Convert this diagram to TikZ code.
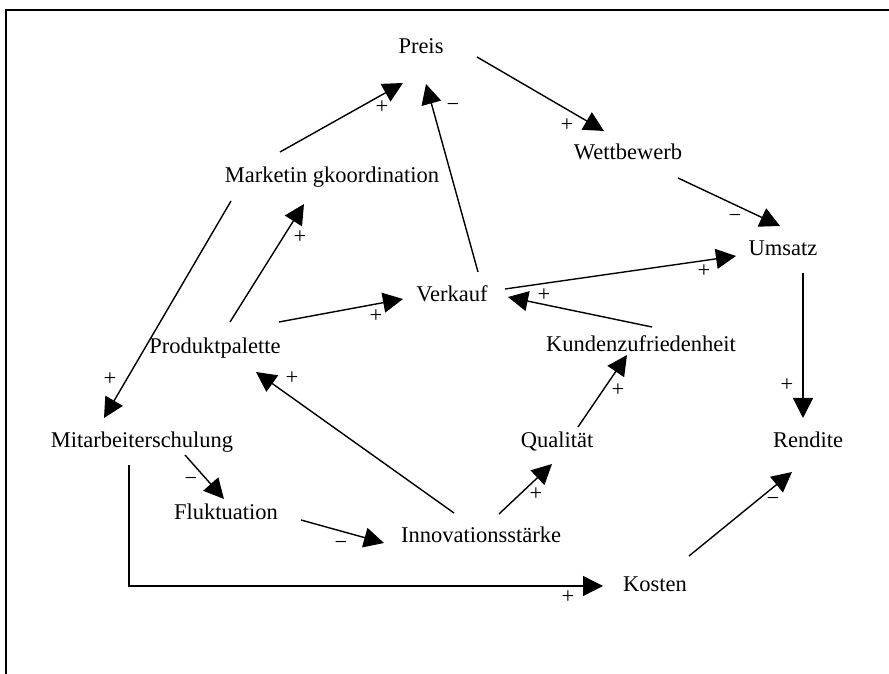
\documentclass[tikz,border=0pt]{standalone}
\usepackage{fontspec}
\setmainfont{Liberation Serif}
\usepackage{tikz}
\usetikzlibrary{arrows.meta}

\begin{document}
\begin{tikzpicture}[x=0.025cm, y=-0.025cm, var/.style={font=\fontsize{16}{19}\selectfont, inner sep=0pt, anchor=base}, sign/.style={font=\fontsize{16}{19}\selectfont, inner sep=0pt, text height=0.5em, text depth=0pt}, link/.style={line width=1pt, -{Triangle[length=0.5cm, width=0.5cm]}}]
\useasboundingbox (0,0) rectangle (889,674);
\draw[line width=1.4pt] (6,674) -- (6,10) -- (889,10);
% variables
\node[var] (preis) at (421,54) {Preis};
\node[var] (wett) at (628,160) {Wettbewerb};
\node[var] (mark) at (332,183) {Marketin\kern4pt gkoordination};
\node[var] (umsatz) at (783,256) {Umsatz};
\node[var] (verk) at (452,302) {Verkauf};
\node[var] (prod) at (215,354) {Produktpalette};
\node[var] (kunden) at (641,352) {Kundenzufriedenheit};
\node[var] (mitarb) at (142,448) {Mitarbeiterschulung};
\node[var] (qual) at (557,448) {Qualität};
\node[var] (rend) at (808,448) {Rendite};
\node[var] (fluk) at (226,520) {Fluktuation};
\node[var] (innov) at (481,543) {Innovationsstärke};
\node[var] (kosten) at (655,592) {Kosten};
% signs
\node[sign] (s1) at (382,110) {+};
\node[sign] (s2) at (453,108) {−};
\node[sign] (s3) at (567,128) {+};
\node[sign] (s4) at (735,219) {−};
\node[sign] (s5) at (704,274) {+};
\node[sign] (s6) at (544,298) {+};
\node[sign] (s7) at (787,388) {+};
\node[sign] (s8) at (300,240) {+};
\node[sign] (s9) at (376,319) {+};
\node[sign] (s10) at (110,382) {+};
\node[sign] (s11) at (292,381) {+};
\node[sign] (s12) at (618,393) {+};
\node[sign] (s13) at (536,497) {+};
\node[sign] (s14) at (773,502) {−};
\node[sign] (s15) at (191,482) {−};
\node[sign] (s16) at (341,546) {−};
\node[sign] (s17) at (568,600) {+};
% links
\path[link]
([shift={(-52,-31)}]mark.base) edge ([shift={(-18,29)}]preis.base)
([shift={(26,-30)}]verk.base) edge ([shift={(5,30)}]preis.base)
([shift={(56,3)}]preis.base) edge ([shift={(-24,-29)}]wett.base)
([shift={(50,18)}]wett.base) edge ([shift={(-3,-30)}]umsatz.base)
([shift={(53,-13)}]verk.base) edge ([shift={(-47,0)}]umsatz.base)
([shift={(11,-25)}]kunden.base) edge ([shift={(56,-5)}]verk.base)
([shift={(20,17)}]umsatz.base) edge ([shift={(-5,-30)}]rend.base)
([shift={(15,-32)}]prod.base) edge ([shift={(-28,21)}]mark.base)
([shift={(64,-32)}]prod.base) edge ([shift={(-49,-3)}]verk.base)
([shift={(-101,18)}]mark.base) edge ([shift={(-38,-30)}]mitarb.base)
([shift={(-27,-30)}]innov.base) edge ([shift={(41,18)}]prod.base)
([shift={(21,-21)}]qual.base) edge ([shift={(-14,3)}]kunden.base)
([shift={(18,-29)}]innov.base) edge ([shift={(-5,16)}]qual.base)
([shift={(34,-36)}]kosten.base) edge ([shift={(-16,24)}]rend.base)
([shift={(43,7)}]mitarb.base) edge ([shift={(-2,-21)}]fluk.base)
([shift={(75,0)}]fluk.base) edge ([shift={(-97,0)}]innov.base);
\draw[link] ([shift={(-13,17)}]mitarb.base) |- ([shift={(-52,-6)}]kosten.base);
\end{tikzpicture}
\end{document}
